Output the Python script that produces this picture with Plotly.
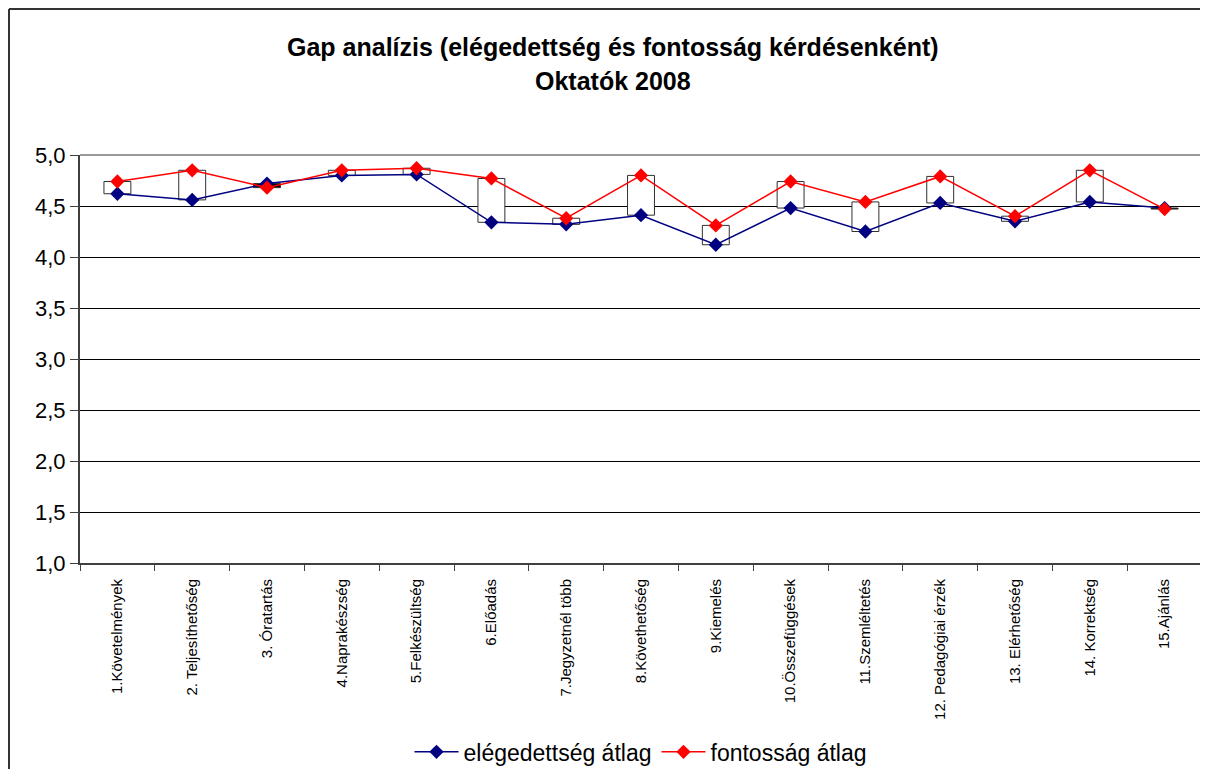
import plotly.graph_objects as go

categories = ["1.Követelmények", "2. Teljesíthetőség", "3. Óratartás", "4.Naprakészség",
              "5.Felkészültség", "6.Előadás", "7.Jegyzetnél több", "8.Követhetőség",
              "9.Kiemelés", "10.Összefüggések", "11.Szemléltetés", "12. Pedagógiai érzék",
              "13. Elérhetőség", "14. Korrektség", "15.Ajánlás"]
elegedettseg = [4.62, 4.56, 4.72, 4.80, 4.81, 4.34, 4.32, 4.41, 4.12, 4.48, 4.25, 4.53, 4.35, 4.54, 4.48]
fontossag = [4.74, 4.85, 4.68, 4.85, 4.87, 4.77, 4.38, 4.80, 4.31, 4.74, 4.54, 4.79, 4.40, 4.85, 4.47]

FONT = "Liberation Sans, Arial, sans-serif"

base = [min(a, b) for a, b in zip(elegedettseg, fontossag)]
height = [abs(b - a) for a, b in zip(elegedettseg, fontossag)]
fill = ["white" if b >= a else "black" for a, b in zip(elegedettseg, fontossag)]

fig = go.Figure()
fig.add_trace(go.Bar(x=categories, y=height, base=base, width=0.36,
                     marker=dict(color=fill, line=dict(color="#303030", width=1)),
                     showlegend=False, hoverinfo="skip"))
fig.add_trace(go.Scatter(x=categories, y=elegedettseg, mode="lines+markers",
                         name="elégedettség átlag",
                         line=dict(color="#000080", width=1.5),
                         marker=dict(symbol="diamond", size=11, color="#000080")))
fig.add_trace(go.Scatter(x=categories, y=fontossag, mode="lines+markers",
                         name="fontosság átlag",
                         line=dict(color="#FF0000", width=1.5),
                         marker=dict(symbol="diamond", size=11, color="#FF0000")))

fig.update_layout(
    width=1200, height=761,
    margin=dict(l=72, r=6, t=147, b=206, autoexpand=False),
    paper_bgcolor="white", plot_bgcolor="white",
    separators=",.",
    font=dict(family=FONT, color="black"),
    legend=dict(orientation="h", x=0.5, xanchor="center", y=-0.463, yanchor="middle",
                font=dict(size=23, family=FONT), itemwidth=44, tracegroupgap=0),
    annotations=[
        dict(text="<b>Gap analízis (elégedettség és fontosság kérdésenként)</b>",
             xref="paper", yref="paper", x=0.475, y=(563 - 47) / 408,
             xanchor="center", yanchor="middle", showarrow=False,
             font=dict(size=25, family=FONT)),
        dict(text="<b>Oktatók 2008</b>",
             xref="paper", yref="paper", x=0.475, y=(563 - 81) / 408,
             xanchor="center", yanchor="middle", showarrow=False,
             font=dict(size=25, family=FONT)),
    ],
    shapes=[
        dict(type="line", xref="paper", yref="paper", x0=0, x1=1, y0=1, y1=1,
             line=dict(color="#999999", width=2), layer="above"),
        dict(type="line", xref="paper", yref="paper", x0=1, x1=1, y0=0, y1=1,
             line=dict(color="#999999", width=2), layer="above"),
        dict(type="line", xref="paper", yref="paper", x0=(9 - 80) / 1122, x1=1.2,
             y0=(563 - 9) / 408, y1=(563 - 9) / 408,
             line=dict(color="#333333", width=2)),
        dict(type="line", xref="paper", yref="paper", x0=(9 - 80) / 1122, x1=(9 - 80) / 1122,
             y0=-1, y1=(563 - 9) / 408,
             line=dict(color="#333333", width=2)),
    ],
)

fig.update_xaxes(type="category", tickangle=-90, tickfont=dict(size=15, family=FONT),
                 showline=True, linecolor="#404040", linewidth=2, automargin=False,
                 ticks="outside", tickson="boundaries", ticklen=6, tickcolor="#404040",
                 ticklabelstandoff=8,
                 showgrid=False, range=[-0.5, 14.5], fixedrange=True)
fig.update_yaxes(range=[1, 5], dtick=0.5, tickformat=".1f", tickfont=dict(size=22, family=FONT),
                 showline=True, linecolor="#404040", linewidth=2, automargin=False,
                 ticks="outside", ticklen=8, tickcolor="#404040",
                 showgrid=True, gridcolor="black", gridwidth=1, zeroline=False)

fig.write_html("out.html")
